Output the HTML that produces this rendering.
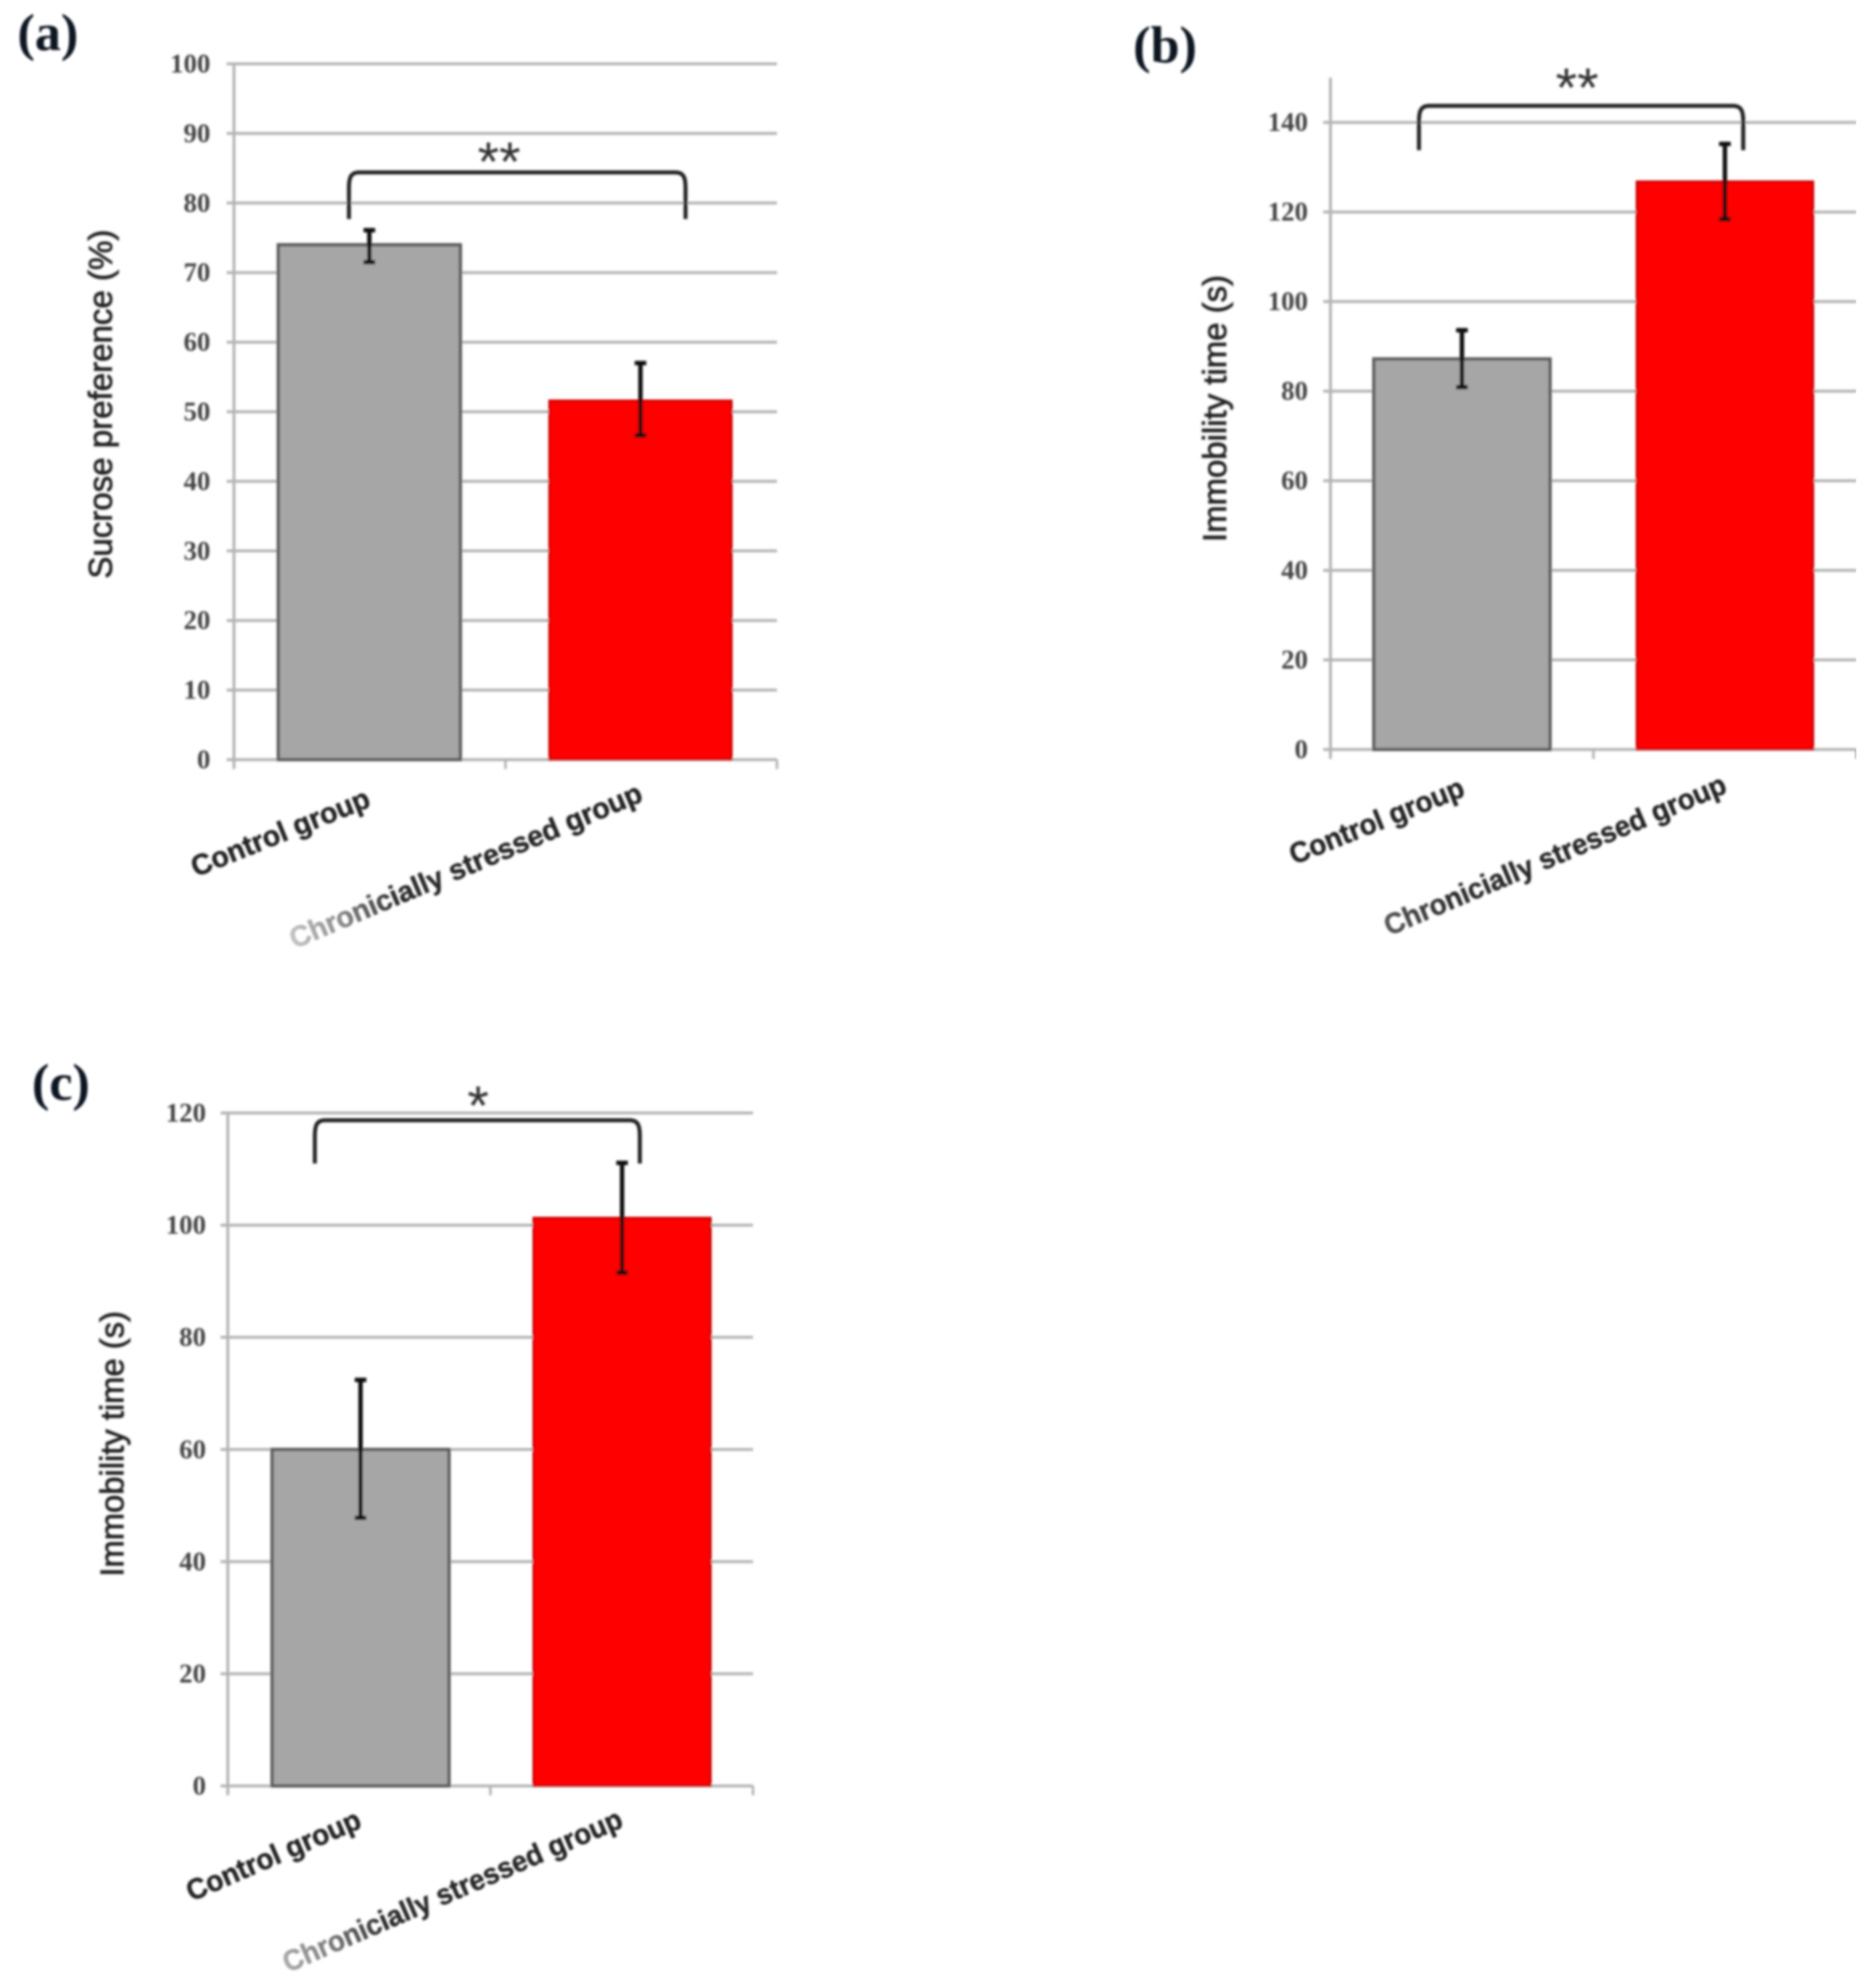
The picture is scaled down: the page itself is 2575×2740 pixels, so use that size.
<!DOCTYPE html>
<html lang="en">
<head>
<meta charset="utf-8">
<title>Sucrose preference and immobility time</title>
<style>
html,body{margin:0;padding:0;background:#fff;}
svg{display:block;}
.tick{font-family:"Liberation Serif",serif;font-weight:bold;font-size:37px;fill:#444;text-anchor:end;}
.cat{font-family:"Liberation Sans",sans-serif;font-weight:bold;font-size:40px;stroke-width:.6px;}
.ytitle{font-family:"Liberation Sans",sans-serif;font-size:45px;fill:#222;text-anchor:middle;stroke:#222;stroke-width:1px;}
.panel{font-family:"Liberation Serif",serif;font-weight:bold;font-size:72px;fill:#101820;}
.star{font-family:"Liberation Sans",sans-serif;font-size:76px;fill:#333;text-anchor:middle;}
</style>
</head>
<body>
<svg id="fig" xmlns="http://www.w3.org/2000/svg" width="2575" height="2740" viewBox="0 0 2575 2740">
  <defs>
    <filter id="soft" x="0" y="0" width="100%" height="100%" filterUnits="objectBoundingBox"><feGaussianBlur stdDeviation="1.5"/></filter>
    <linearGradient id="fadeA" x1="0" y1="0" x2="1" y2="0"><stop offset="0" stop-color="#c4c4c4"/><stop offset=".14" stop-color="#8a8a8a"/><stop offset=".3" stop-color="#2a2a2a"/><stop offset="1" stop-color="#222"/></linearGradient>
    <linearGradient id="fadeB" x1="0" y1="0" x2="1" y2="0"><stop offset="0" stop-color="#555"/><stop offset=".2" stop-color="#2a2a2a"/><stop offset="1" stop-color="#222"/></linearGradient>
    <linearGradient id="fadeC" x1="0" y1="0" x2="1" y2="0"><stop offset="0" stop-color="#aaa"/><stop offset=".12" stop-color="#808080"/><stop offset=".3" stop-color="#2a2a2a"/><stop offset="1" stop-color="#222"/></linearGradient>
  </defs>
  <rect width="2575" height="2740" fill="#fff"/>
  <g id="root" filter="url(#soft)">
    <g id="panelA">
      <text class="panel" x="24" y="69">(a)</text>
      <text class="ytitle" transform="translate(154,557) rotate(-90)" textLength="481" lengthAdjust="spacingAndGlyphs">Sucrose preference (%)</text>
      <text class="star" x="688" y="249">**</text>
    </g>
    <g id="panelB">
      <text class="panel" x="1562" y="86">(b)</text>
      <text class="ytitle" transform="translate(1690,563) rotate(-90)" textLength="368" lengthAdjust="spacingAndGlyphs">Immobility time (s)</text>
      <text class="star" x="2174" y="147">**</text>
    </g>
    <g id="panelC">
      <text class="panel" x="44" y="1516">(c)</text>
      <text class="ytitle" transform="translate(170,1990) rotate(-90)" textLength="366" lengthAdjust="spacingAndGlyphs">Immobility time (s)</text>
      <text class="star" x="659" y="1550">*</text>
    </g>
  </g>
</svg>
<script>
var categories = ["Control group", "Chronicially stressed group"];

var ticksA = [0, 10, 20, 30, 40, 50, 60, 70, 80, 90, 100];
var valuesA = [74, 51.6];
var errorHighA = [76.1, 57];
var errorLowA = [71.5, 46.6];
var bracketTopA = [84.4];
var bracketFootA = [77.7];

var ticksB = [0, 20, 40, 60, 80, 100, 120, 140];
var valuesB = [87.2, 126.8];
var errorHighB = [93.6, 135.2];
var errorLowB = [80.9, 118.4];
var bracketTopB = [143.7];
var bracketFootB = [133.8];

var ticksC = [0, 20, 40, 60, 80, 100, 120];
var valuesC = [60, 101.3];
var errorHighC = [72.4, 111.1];
var errorLowC = [47.8, 91.5];
var bracketTopC = [118.7];
var bracketFootC = [111];

var SVGNS = "http://www.w3.org/2000/svg";

function make(parent, tag, props) {
  var node = document.createElementNS(SVGNS, tag);
  for (var key in props) { node.setAttribute(key, props[key]); }
  parent.appendChild(node);
  return node;
}

function drawChart(opts) {
  var host = document.getElementById(opts.host);
  var layer = document.createElementNS(SVGNS, "g");
  
  
  host.insertBefore(layer, host.firstChild);

  var yScale = function (v) { return opts.y0 - v * (opts.y0 - opts.yTop) / opts.yMax; };
  var xBand = (opts.x1 - opts.x0) / categories.length;
  var xCenter = function (i) { return opts.x0 + xBand * (i + 0.5); };

  // gridlines and tick labels
  opts.ticks.forEach(function (t) {
    var grid = make(layer, "line", {x1: opts.x0 - 10, x2: opts.x1, y1: yScale(t), y2: yScale(t), stroke: "#b4b4b4", "stroke-width": 4});
    
    
    var label = make(layer, "text", {"class": "tick", x: opts.labelRight, y: yScale(t) + 12});
    label.textContent = t;
    
    
  });

  // axes
  var yAxis = make(layer, "line", {x1: opts.x0, x2: opts.x0, y1: yScale(opts.yMax), y2: opts.y0 + 13, stroke: "#b4b4b4", "stroke-width": 4});
  
  
  [1, 2].forEach(function (k) {
    var tx = opts.x0 + xBand * k;
    var tick = make(layer, "line", {x1: tx, x2: tx, y1: opts.y0, y2: opts.y0 + 13, stroke: "#b4b4b4", "stroke-width": 3.5});
    
    
  });

  // bars
  opts.values.forEach(function (v, i) {
    var cx = xCenter(i) + opts.barShift[i];
    var top = yScale(v);
    var bar = make(layer, "rect", {
      x: cx - opts.barWidth / 2, y: top, width: opts.barWidth, height: opts.y0 - top,
      fill: i === 0 ? "#a6a6a6" : "#ff0000",
      stroke: i === 0 ? "#5c5c5c" : "#cc0000",
      "stroke-width": i === 0 ? 4.5 : 3
    });
    
    
  });

  // error bars
  opts.values.forEach(function (v, i) {
    var cx = xCenter(i) + opts.barShift[i];
    var hi = yScale(opts.high[i]);
    var lo = yScale(opts.low[i]);
    var path = "M" + cx + " " + hi + "V" + lo +
      "M" + (cx - 8) + " " + hi + "H" + (cx + 8) +
      "M" + (cx - 8) + " " + lo + "H" + (cx + 8);
    var err = make(layer, "path", {d: path, fill: "none", stroke: "#0c0c0c", "stroke-width": 6});
    
    
  });

  // significance bracket
  var bTop = yScale(opts.bracketTop[0]);
  var bFoot = yScale(opts.bracketFoot[0]);
  var d = "M" + opts.bx0 + " " + bFoot +
    "V" + (bTop + 22) +
    "C" + opts.bx0 + " " + (bTop + 8) + " " + (opts.bx0 + 2) + " " + bTop + " " + (opts.bx0 + 14) + " " + bTop +
    "H" + (opts.bx1 - 14) +
    "C" + (opts.bx1 - 2) + " " + bTop + " " + opts.bx1 + " " + (bTop + 8) + " " + opts.bx1 + " " + (bTop + 22) +
    "V" + bFoot;
  var bracket = make(layer, "path", {d: d, fill: "none", stroke: "#222", "stroke-width": 5.5});
  
  

  // category labels
  categories.forEach(function (name, i) {
    var spot = opts.catLabels[i];
    var paint = i === 0 ? "#222" : "url(#" + opts.fade + ")";
    var label = make(layer, "text", {
      "class": "cat",
      transform: "translate(" + spot[0] + "," + spot[1] + ") rotate(" + spot[3] + ")",
      textLength: spot[2],
      lengthAdjust: "spacingAndGlyphs",
      fill: paint,
      stroke: paint
    });
    label.textContent = name;
    
    
  });
}

drawChart({
  id: "a", host: "panelA", ticks: ticksA, values: valuesA, high: errorHighA, low: errorLowA,
  bracketTop: bracketTopA, bracketFoot: bracketFootA,
  x0: 322.5, x1: 1071, y0: 1047, yTop: 88, yMax: 100, labelRight: 290,
  barWidth: 251, barShift: [-0.5, -1], bx0: 481, bx1: 945,
  catLabels: [[270, 1209, 262, -22], [406, 1308, 524, -23]], fade: "fadeA"
});
drawChart({
  id: "b", host: "panelB", ticks: ticksB, values: valuesB, high: errorHighB, low: errorLowB,
  bracketTop: bracketTopB, bracketFoot: bracketFootB,
  x0: 1834, x1: 2559, y0: 1033, yTop: 107, yMax: 150, labelRight: 1803,
  barWidth: 243, barShift: [0, 0], bx0: 1956, bx1: 2403,
  catLabels: [[1784, 1192, 256, -22], [1915, 1290, 508, -23]], fade: "fadeB"
});
drawChart({
  id: "c", host: "panelC", ticks: ticksC, values: valuesC, high: errorHighC, low: errorLowC,
  bracketTop: bracketTopC, bracketFoot: bracketFootC,
  x0: 314, x1: 1038, y0: 2461.5, yTop: 1534, yMax: 120, labelRight: 284,
  barWidth: 244, barShift: [2, 0.5], bx0: 434, bx1: 882,
  catLabels: [[264, 2621, 258, -23.5], [397, 2719, 506, -23.5]], fade: "fadeC"
});
</script>
</body>
</html>
